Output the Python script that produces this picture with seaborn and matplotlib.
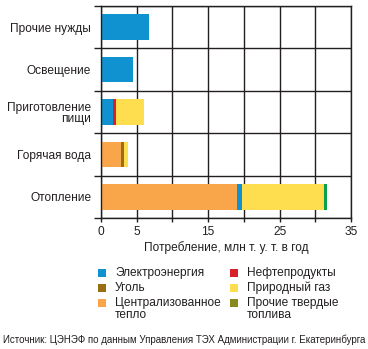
import matplotlib
matplotlib.use("Agg")
import matplotlib.pyplot as plt
from matplotlib.patches import Rectangle
import seaborn as sns
import pandas as pd
import numpy as np

categories = ["Прочие нужды", "Освещение", "Приготовление\nпищи", "Горячая вода", "Отопление"]
heat = [0.0, 0.0, 0.0, 2.75, 19.0]
electricity = [6.7, 4.5, 1.7, 0.0, 0.7]
oil = [0.0, 0.0, 0.35, 0.0, 0.0]
coal = [0.0, 0.0, 0.0, 0.45, 0.0]
gas = [0.0, 0.0, 3.95, 0.6, 11.5]
other_solid = [0.0, 0.0, 0.0, 0.0, 0.4]
xticks = [0, 5, 10, 15, 20, 25, 30, 35]
xtick_labels = ["0", "5", "", "15", "", "25", "", "35"]
legend_names = ["Электроэнергия", "Нефтепродукты", "Уголь", "Природный газ",
                "Централизованное\nтепло", "Прочие твердые\nтоплива"]

bar_colors = ["#f9a54a", "#1192d0", "#d9202a", "#9a6e12", "#fedd4e", "#0ca04a"]
legend_colors = ["#1192d0", "#d9202a", "#9a6e12", "#fedd4e", "#f9a54a", "#8a8a1e"]

sns.set_theme(style="white")
plt.rcParams["font.family"] = ["Liberation Sans", "DejaVu Sans"]
TXT = "#231f20"
FS = 8.6

fig = plt.figure(figsize=(3.68, 3.49), dpi=100)
ax = fig.add_axes([101/368, 1-218/349, 250/368, 212/349])

series = [heat, electricity, oil, coal, gas, other_solid]
cum = np.cumsum(np.array(series), axis=0)
for k in range(len(series) - 1, -1, -1):
    df = pd.DataFrame({"cat": categories, "val": cum[k]})
    sns.barplot(data=df, y="cat", x="val", orient="h", color=bar_colors[k],
                saturation=1, width=0.6, ax=ax, linewidth=0, errorbar=None)

ax.set_xlim(0, 35)
ax.set_ylim(4.5, -0.5)
ax.set_xticks(xticks)
ax.set_xticklabels(xtick_labels, fontsize=FS, color=TXT)
ax.set_yticks(np.arange(-0.5, 5, 1.0))
ax.set_yticklabels([])
ax.set_yticks(range(len(categories)), minor=True)
ax.set_yticklabels(categories, minor=True, fontsize=FS, color=TXT, linespacing=0.95,
                   multialignment="right")
ax.tick_params(axis="y", which="major", length=5, width=1, color=TXT, direction="out", left=True)
ax.tick_params(axis="y", which="minor", length=0, pad=7)
ax.tick_params(axis="x", length=3, width=1, color=TXT, direction="out", bottom=True, pad=3)
ax.set_ylabel("")
ax.set_xlabel("Потребление, млн т. у. т. в год", fontsize=FS, color=TXT, labelpad=2)
ax.grid(True, axis="both", which="major", color=TXT, linewidth=1)
ax.set_axisbelow(True)
for s in ax.spines.values():
    s.set_color(TXT)
    s.set_linewidth(1)

# legend, two columns, square aligned to first text line
col_x = [98, 230]
row_y = [273, 288, 303]
for i, (name, c) in enumerate(zip(legend_names, legend_colors)):
    cx = col_x[i % 2]
    cy = row_y[i // 2]
    fig.patches.append(Rectangle(((cx) / 368, 1 - (cy + 4) / 349), 8 / 368, 8 / 349,
                                 transform=fig.transFigure, facecolor=c, edgecolor="none"))
    fig.text((cx + 17) / 368, 1 - (cy - 6) / 349, name, ha="left", va="top",
             fontsize=FS, color=TXT, linespacing=0.95)

fig.text(0.5, 1-340/349, "Источник: ЦЭНЭФ по данным Управления ТЭХ Администрации г. Екатеринбурга",
         ha="center", va="center", fontsize=7.0, color=TXT,
         family=["Liberation Sans Narrow", "Liberation Sans", "DejaVu Sans"])

fig.savefig("out.png", dpi=100)
